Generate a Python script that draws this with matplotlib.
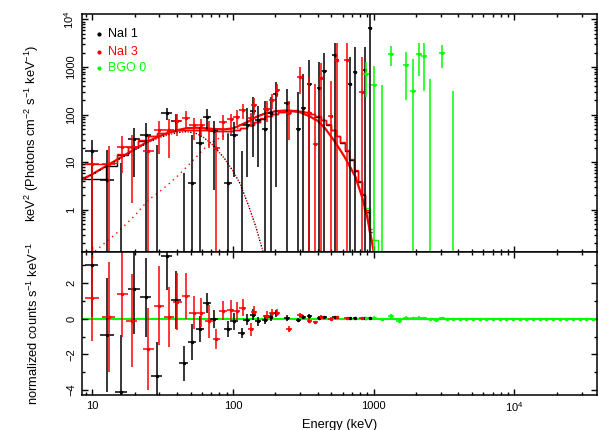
import numpy as np
import matplotlib
matplotlib.use("Agg")
import matplotlib.pyplot as plt
from matplotlib.ticker import LogLocator, MultipleLocator, NullFormatter

plt.rcParams['font.family'] = ['Liberation Sans', 'DejaVu Sans']
plt.rcParams['mathtext.default'] = 'regular'

# model components (keV^2 Photons cm^-2 s^-1 keV^-1)
model_e = [8.5, 10, 12, 15, 20, 25, 30, 35, 40, 47, 55, 62, 72, 87, 100, 112,
           128, 145, 165, 200, 247, 300, 350, 400, 450, 530, 620, 740, 820, 890, 966, 1000]
comp_low = [4.3, 5.5, 7.5, 11, 18, 26, 33, 38, 42, 44, 40, 33, 23, 12, 6.5, 3.6,
            1.3, 0.45, 0.12, 0.01, 1e-3, 1e-4, 1e-4, 1e-4, 1e-4, 1e-4, 1e-4, 1e-4, 1e-4, 1e-4, 1e-4, 1e-4]
comp_high = [0.08, 0.12, 0.19, 0.33, 0.75, 1.6, 2.4, 3.5, 5.0, 8, 13, 19, 27, 37, 45, 56,
             70, 88, 103, 118, 123, 112, 92, 74, 52, 27, 13, 5, 2.0, 0.82, 0.23, 0.13]

# folded model per detector channel (NaI)
chan_edges = [8.5, 12.5, 15, 18, 21, 25, 29, 34, 40, 47, 55, 64, 75, 88, 100, 112, 125,
              140, 155, 170, 190, 210, 235, 260, 290, 320, 350, 385, 420, 460, 500, 540,
              580, 625, 670, 720, 770, 820, 870, 920, 975]
nai1_chan = [4.5, 8.2, 14, 21, 28, 35, 41, 45, 47, 48, 48, 47, 46, 46, 48, 53, 60, 70, 82,
             93, 104, 113, 119, 122, 120, 114, 104, 91, 77, 62, 47, 35, 25, 17, 11, 6.5,
             3.8, 2.0, 0.9, 0.35]
nai3_chan = [9.2, 9.6, 15, 21, 29, 36, 42, 45, 47, 48, 48, 47, 46, 46, 48, 53, 61, 71, 83,
             94, 105, 114, 120, 123, 121, 115, 105, 92, 78, 63, 48, 36, 26, 18, 11.5, 6.8,
             4.0, 2.1, 1.0, 0.4]

# NaI 1
nai1_e = [9.9, 12.66, 16.0, 19.8, 23.9, 28.7, 33.8, 39.4, 44.5, 51.1, 58.2, 65.3, 73.6,
          92.3, 101.6, 115.3, 125, 139.5, 151.5, 168.7, 185, 201, 242, 291, 316, 347,
          410, 446, 529, 679, 737, 867, 942]
nai1_hw = [0.045, 0.05, 0.045, 0.04, 0.04, 0.038, 0.038, 0.035, 0.032, 0.03, 0.03, 0.028,
           0.028, 0.026, 0.026, 0.024, 0.024, 0.022, 0.022, 0.022, 0.02, 0.02, 0.02, 0.019,
           0.019, 0.018, 0.018, 0.017, 0.017, 0.016, 0.016, 0.015, 0.015]
nai1_flux = [16.9, 4.2, -3, 30.8, 37.9, -5, 109, 73, -22, 3.7, 25.4, 90, 46, 3.65, 37.9,
             -5, 61.6, 120, 78.5, 50.7, 109, 277, 176, 50, 137, 439, 365, 816, 1807, 439,
             804, 886, 6685]
nai1_hi = [30, 18, 9.7, 52, 67, 23, 140, 103, 6, 38, 55, 130, 72, 40, 70, 17, 140, 235,
           150, 190, 230, 490, 350, 300, 730, 1390, 1250, 1930, 3150, 1630, 2660, 2700, 20000]
nai1_lo = [0, 0, 0, 5, 0, 0, 78, 43, 0, 0, 0, 45, 2.6, 0, 5, 0, 5, 13, 8, 0, 0, 3, 0, 0,
           0, 0, 0, 0, 0, 0, 0, 0, 0]
nai1_res = [3.0, -0.93, -4.1, 1.65, 1.2, -3.2, 3.5, 1.05, -2.5, -1.32, -0.57, 0.87, 0.0,
            -0.57, -0.15, -0.8, -0.05, 0.22, -0.15, -0.05, 0.1, 0.3, 0.04, -0.05, 0.1,
            0.15, 0.05, 0.1, 0.08, 0.02, 0.04, 0.02, 0.03]
nai1_res_err = [2.9, 3.2, 3.2, 2.5, 2.2, 1.9, 1.9, 1.6, 1.0, 1.0, 0.75, 0.55, 0.5, 0.47,
                0.5, 0.3, 0.3, 0.3, 0.25, 0.25, 0.2, 0.2, 0.15, 0.12, 0.1, 0.1, 0.08,
                0.08, 0.06, 0.05, 0.05, 0.04, 0.04]

# NaI 3
nai3_e = [9.9, 13.1, 16.3, 19.1, 25.0, 29.6, 35.0, 40.0, 46.4, 52.5, 59.7, 67.6, 76, 85,
          96, 106, 117, 135, 141, 173, 188, 207, 250, 300, 347, 384, 422, 495, 545, 642, 820]
nai3_hw = [0.05, 0.045, 0.04, 0.04, 0.038, 0.036, 0.034, 0.032, 0.03, 0.03, 0.028, 0.028,
           0.026, 0.026, 0.025, 0.024, 0.024, 0.022, 0.022, 0.022, 0.021, 0.02, 0.02,
           0.019, 0.018, 0.018, 0.017, 0.017, 0.016, 0.016, 0.015]
nai3_flux = [9.3, 9.3, 21.2, 21.2, 17.5, 46.8, 46.8, 72.5, 85, 59.6, 59.6, 47, 20, 69.6,
             80, 89.5, 127, 85, 163, 132, 201, 336, 109, 620, 110, 24.5, 600, 94, 1400,
             1400, 300]
nai3_hi = [12, 22, 35, 38, 28, 75, 80, 105, 120, 85, 80, 75, 45, 100, 105, 125, 165, 110,
           220, 190, 270, 430, 190, 1000, 620, 450, 1190, 500, 3150, 3150, 1630]
nai3_lo = [0, 0, 6, 1.4, 0, 15, 12, 35, 50, 30, 35, 20, 0, 30, 40, 60, 80, 55, 100, 70,
           130, 230, 30, 270, 0, 0, 0, 0, 0, 0, 0]
nai3_res = [1.15, 0.1, 1.4, -0.1, -1.7, 0.74, 0.1, 0.96, 1.28, 0.35, 0.35, -0.15, -1.13,
            0.46, 0.5, 0.44, 0.63, -0.6, 0.4, 0.15, 0.3, 0.35, -0.57, 0.2, -0.1, -0.2,
            0.1, 0.0, 0.1, 0.05, 0.02]
nai3_res_err = [2.4, 3.1, 2.4, 2.6, 2.3, 2.2, 1.7, 1.6, 1.3, 0.9, 0.8, 0.9, 0.55, 0.55,
                0.55, 0.5, 0.45, 0.35, 0.3, 0.3, 0.25, 0.2, 0.15, 0.15, 0.12, 0.1, 0.1,
                0.08, 0.07, 0.06, 0.05]

# BGO 0
bgo_e = [881, 1011, 1150, 1330, 1510, 1700, 1890, 2100, 2290, 2530, 2780, 3040, 3330,
         3670, 4090, 4560, 5090, 5670, 6320, 7050, 7860, 8760, 9770, 10900, 12150,
         13550, 15100, 16850, 18800, 20950, 23350, 26050, 29050, 32400, 36100]
bgo_hw = 0.022
bgo_flux = [730, 427, -300, 1900, -800, 1110, 310, 1900, 1690, -300, -800, 1930, -800,
            -300] + [-500] * 21
bgo_hi = [1250, 1040, 427, 2750, -1, 2040, 1480, 3140, 3140, 560, -1, 2850, -1, 320] + [-1] * 21
bgo_lo = [240, 0, 0, 1040, 0, 206, 0, 640, 310, 0, 0, 960, 0, 0] + [0] * 21
bgo_model = [1.1, 0.23, 0.04] + [0.01] * 32
bgo_res = [0.02, 0.03, -0.03, 0.17, -0.11, 0.07, 0.02, 0.07, 0.05, -0.03, -0.06, 0.07,
           -0.02, 0.01] + [0.0] * 21
bgo_res_err = [0.1, 0.1, 0.1, 0.1, 0.08, 0.08, 0.07, 0.07, 0.06, 0.06, 0.05, 0.05, 0.04,
               0.04] + [0.02] * 21

BLACK, RED, GREEN = '#000000', '#ff0000', '#00ff00'

fig = plt.figure(figsize=(5.98, 4.30), dpi=100)
ax1 = fig.add_axes([0.1371, 0.4140, 0.8607, 0.5534])
ax2 = fig.add_axes([0.1371, 0.0814, 0.8607, 0.3326], sharex=ax1)


def bin_edges(e, hw):
    e = np.asarray(e, float)
    hw = np.broadcast_to(np.asarray(hw, float), e.shape)
    return e * 10 ** (-hw), e * 10 ** hw


def draw_spec(ax, e, hw, flux, hi, lo, color):
    e = np.asarray(e, float)
    flux, hi, lo = (np.asarray(v, float) for v in (flux, hi, lo))
    e_lo, e_hi = bin_edges(e, hw)
    pos = flux > 0
    vis = hi > 0
    ax.vlines(e[vis], np.maximum(lo[vis], 1e-3), hi[vis], color=color, lw=1.1)
    ax.hlines(flux[pos], e_lo[pos], e_hi[pos], color=color, lw=1.1)
    ax.plot(e[pos], flux[pos], 'o', ms=1.5, color=color)


def draw_res(ax, e, hw, res, err, color):
    e = np.asarray(e, float)
    e_lo, e_hi = bin_edges(e, hw)
    ax.errorbar(e, res, yerr=err, xerr=[e - e_lo, e_hi - e], fmt='o', ms=1.5,
                color=color, elinewidth=1.1, capsize=0)


# top panel: folded models as steps
ax1.stairs(nai1_chan, chan_edges, color=BLACK, lw=1.0, baseline=None)
ax1.stairs(nai3_chan, chan_edges, color=RED, lw=1.0, baseline=None)
b_lo, b_hi = bin_edges(bgo_e, bgo_hw)
bgo_edges = np.concatenate([[b_lo[0]], np.sqrt(np.array(bgo_e[:-1]) * np.array(bgo_e[1:])), [b_hi[-1]]])
ax1.stairs(bgo_model, bgo_edges, color=GREEN, lw=1.0, baseline=None)

# unfolded model and its components
total = np.asarray(comp_low) + np.asarray(comp_high)
ax1.plot(model_e, total, color=RED, lw=1.6)
ax1.plot(model_e, comp_low, color=RED, lw=1.0, ls=(0, (1, 3)))
ax1.plot(model_e, comp_low, color=BLACK, lw=1.0, ls=(2, (1, 3)))
ax1.plot(model_e, comp_high, color=RED, lw=1.0, ls=(0, (1, 3)))

draw_spec(ax1, nai1_e, nai1_hw, nai1_flux, nai1_hi, nai1_lo, BLACK)
draw_spec(ax1, nai3_e, nai3_hw, nai3_flux, nai3_hi, nai3_lo, RED)
draw_spec(ax1, bgo_e, bgo_hw, bgo_flux, bgo_hi, bgo_lo, GREEN)

# legend
for yy, name, col in [(0.916, 'NaI 1', BLACK), (0.840, 'NaI 3', RED), (0.773, 'BGO 0', GREEN)]:
    ax1.plot([0.033], [yy], 'o', ms=2, color=col, transform=ax1.transAxes)
    ax1.text(0.0505, yy, name, color=col, fontsize=9, va='center', ha='left',
             transform=ax1.transAxes)

# bottom panel: residuals
ax2.axhline(0, color=GREEN, lw=1.5, zorder=1)
draw_res(ax2, nai1_e, nai1_hw, nai1_res, nai1_res_err, BLACK)
draw_res(ax2, nai3_e, nai3_hw, nai3_res, nai3_res_err, RED)
draw_res(ax2, bgo_e, bgo_hw, bgo_res, bgo_res_err, GREEN)

# axes
ax1.set_xscale('log')
ax1.set_yscale('log')
ax1.set_xlim(8.45, 38400)
ax1.set_ylim(0.13, 1.3e4)
ax2.set_ylim(-4.27, 3.74)

ax1.set_yticks([1, 10, 100, 1000, 1e4], ['1', '10', '100', '1000', '10$^4$'])
ax1.yaxis.set_minor_locator(LogLocator(base=10, subs=np.arange(2, 10), numticks=20))
ax1.yaxis.set_minor_formatter(NullFormatter())
ax2.set_xticks([10, 100, 1000, 1e4], ['10', '100', '1000', '10$^4$'])
ax2.xaxis.set_minor_locator(LogLocator(base=10, subs=np.arange(2, 10), numticks=20))
ax2.xaxis.set_minor_formatter(NullFormatter())
ax2.set_yticks([-4, -2, 0, 2], ['\u22124', '\u22122', '0', '2'])
ax2.yaxis.set_minor_locator(MultipleLocator(1))
ax1.tick_params(axis='x', which='both', labelbottom=False)

for ax in (ax1, ax2):
    ax.tick_params(which='both', direction='in', top=True, right=True, width=1.0,
                   labelsize=8)
    ax.tick_params(which='major', length=4.5)
    ax.tick_params(which='minor', length=2.3)
    ax.tick_params(axis='y', labelrotation=90, pad=4)
    for lab in ax.get_yticklabels():
        lab.set_va('center')
    for s in ax.spines.values():
        s.set_linewidth(1.1)

ax2.tick_params(axis='x', pad=4)
ax2.set_xlabel('Energy (keV)', fontsize=9.3, labelpad=3)
ax1.set_ylabel('keV$^2$ (Photons cm$^{-2}$ s$^{-1}$ keV$^{-1}$)', fontsize=9.3)
ax2.set_ylabel('normalized counts s$^{-1}$ keV$^{-1}$', fontsize=9.3)
ax1.yaxis.set_label_coords(-0.08, 0.5)
ax2.yaxis.set_label_coords(-0.08, 0.5)

fig.savefig('out.png', dpi=100)
